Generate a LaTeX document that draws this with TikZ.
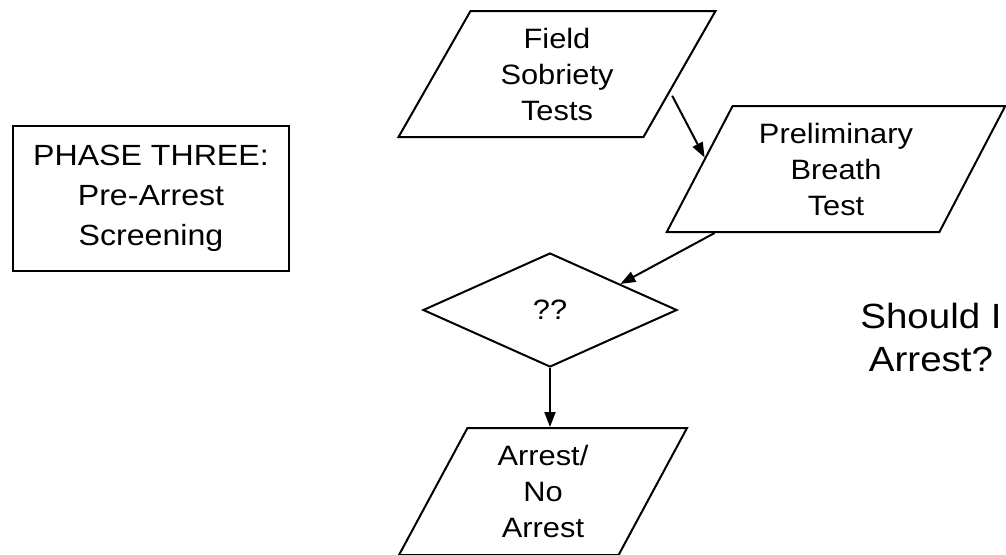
\documentclass[tikz,border=0pt]{standalone}
\usepackage{fontspec}
\setmainfont{Liberation Sans}[FakeStretch=1.1]
\usepackage{tikz}
\usetikzlibrary{arrows.meta,positioning,shapes.geometric,calc}

\begin{document}
\begin{tikzpicture}[
  x=0.5pt,y=-0.5pt,
  txt/.style={align=center,font=\fontsize{14}{18}\selectfont,line width=1pt},
  para/.style={txt,draw,trapezium,trapezium stretches=true,inner sep=0pt,text depth=0pt},
  arr/.style={-{Triangle[length=7.5pt,width=5.5pt]},line width=1pt}
]
\useasboundingbox (0,0) rectangle (1006,554);
\node[txt,draw,minimum width=138pt,minimum height=72.5pt,
      font=\fontsize{14.6}{20}\selectfont] (phase) at (151,198.5) {PHASE THREE:\\Pre-Arrest\\Screening};
\node[para,trapezium left angle=63,trapezium right angle=117,
      minimum width=158.5pt,minimum height=63pt] (fst) at (557,74) {Field\\Sobriety\\Tests};
\node[para,trapezium left angle=62,trapezium right angle=118,
      minimum width=169.5pt,minimum height=63pt] (pbt) at (836,169) {Preliminary\\Breath\\Test};
\node[txt,draw,diamond,minimum width=127pt,minimum height=57pt,inner sep=0pt] (dec) at (550,310) {??};
\node[para,trapezium left angle=66,trapezium right angle=114,
      minimum width=145pt,minimum height=63.5pt,below=29.5pt of dec,xshift=-3.5pt] (arr) {Arrest/\\No\\Arrest};
\node[txt,font=\fontsize{17.5}{21.5}\selectfont] (ask) at (931,337) {Should I\\Arrest?};
\draw[arr] ($(fst.top right corner)!0.67!(fst.bottom right corner)+(4,0)$) -- ($(pbt.top left corner)!0.41!(pbt.bottom left corner)$);
\draw[arr] ($(pbt.bottom left corner)!0.18!(pbt.bottom right corner)$) -- ($(dec.north)!0.55!(dec.east)$);
\draw[arr] (dec.south) -- (dec.south |- arr.north);
\end{tikzpicture}
\end{document}
